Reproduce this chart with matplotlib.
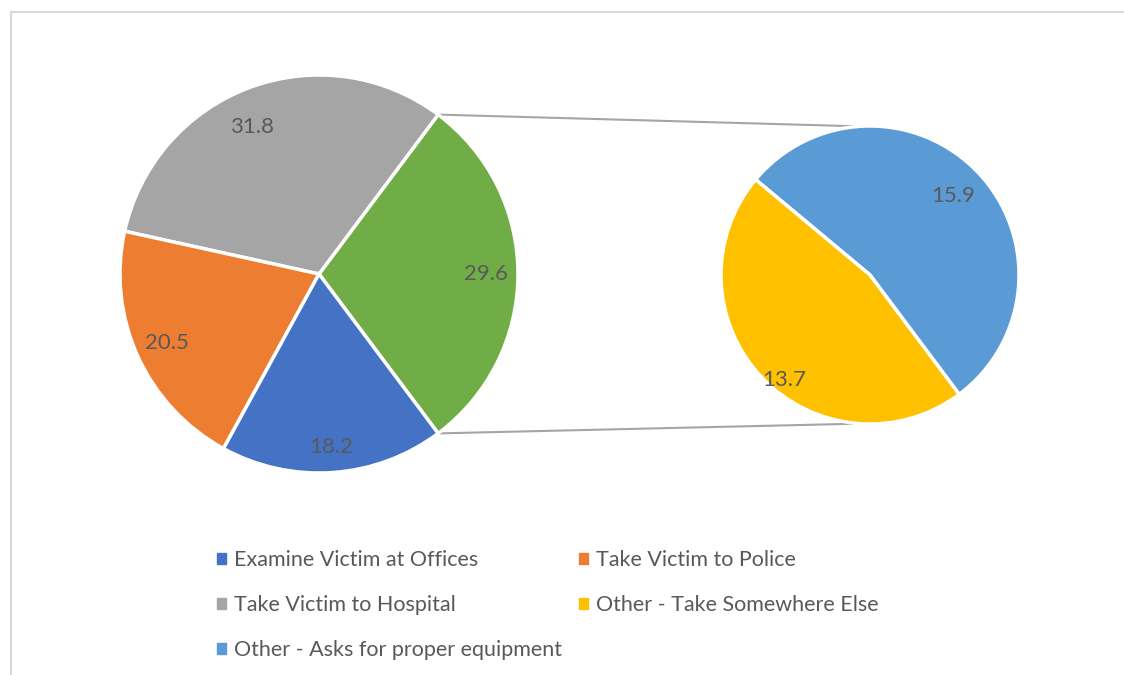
import matplotlib.pyplot as plt
import numpy as np
from matplotlib.patches import Patch, Rectangle

plt.rcParams['font.family'] = ['Lato', 'DejaVu Sans']

# main pie: the "Other" slice is split out into the small pie
main_labels = ["Other", "Take Victim to Hospital", "Take Victim to Police", "Examine Victim at Offices"]
main_values = [29.6, 31.8, 20.5, 18.2]
main_colors = ["#70AD47", "#A5A5A5", "#ED7D31", "#4472C4"]

sub_labels = ["Other - Asks for proper equipment", "Other - Take Somewhere Else"]
sub_values = [15.9, 13.7]
sub_colors = ["#5B9BD5", "#FFC000"]

legend_order = ["Examine Victim at Offices", "Take Victim to Hospital",
                "Other - Asks for proper equipment",
                "Take Victim to Police", "Other - Take Somewhere Else"]
legend_colors = {"Examine Victim at Offices": "#4472C4",
                 "Take Victim to Police": "#ED7D31",
                 "Take Victim to Hospital": "#A5A5A5",
                 "Other - Take Somewhere Else": "#FFC000",
                 "Other - Asks for proper equipment": "#5B9BD5"}

W, H = 1124, 675
fig = plt.figure(figsize=(W / 100, H / 100), dpi=100)
ax = fig.add_axes([0, 0, 1, 1])

c1, r1 = (319, 401), 199
c2, r2 = (870, 400), 149
start = -main_values[0] / sum(main_values) * 360 / 2

wedge_kw = dict(edgecolor="white", linewidth=2.5)
w1, _ = ax.pie(main_values, colors=main_colors, startangle=start, center=c1,
               radius=r1, wedgeprops=wedge_kw, frame=True)
w2, _ = ax.pie(sub_values, colors=sub_colors, startangle=start, center=c2,
               radius=r2, wedgeprops=wedge_kw, frame=True)
ax.set_xlim(0, W)
ax.set_ylim(0, H)
ax.set_aspect('equal')
ax.axis('off')

# chart frame
ax.add_patch(Rectangle((11, -5), W, H - 12 + 5, fill=False, ec="#D9D9D9", lw=1.5))

# connector lines from the split slice to the small pie
g = w1[0]
for ang, ang2 in [(g.theta2, 94), (g.theta1, 266)]:
    x0 = c1[0] + r1 * np.cos(np.radians(ang))
    y0 = c1[1] + r1 * np.sin(np.radians(ang))
    x1 = c2[0] + r2 * np.cos(np.radians(ang2))
    y1 = c2[1] + r2 * np.sin(np.radians(ang2))
    ax.plot([x0, x1], [y0, y1], color="#A5A5A5", lw=1.5, zorder=0)

def put_labels(wedges, values, center, radius, dists, shifts):
    for w, v, d, s in zip(wedges, values, dists, shifts):
        t = np.radians((w.theta1 + w.theta2) / 2 + s)
        ax.text(center[0] + d * radius * np.cos(t), center[1] + d * radius * np.sin(t),
                f"{v}", ha='center', va='center', fontsize=16, color="#595959")

put_labels(w1, main_values, c1, r1, [0.84, 0.81, 0.84, 0.87], [0, 4, 0, 0])
put_labels(w2, sub_values, c2, r2, [0.77, 0.91], [0, 7.5])

handles = [Patch(color=legend_colors[k]) for k in legend_order]
fig.legend(handles, legend_order, ncol=2, loc='upper left',
           bbox_to_anchor=(217 / W, 1 - 550 / H), frameon=False, borderpad=0,
           borderaxespad=0, fontsize=15.5, handlelength=0.42, handleheight=0.42,
           handletextpad=0.37, labelspacing=1.16, columnspacing=0.8,
           labelcolor="#595959")

fig.savefig("out.png", dpi=100)
